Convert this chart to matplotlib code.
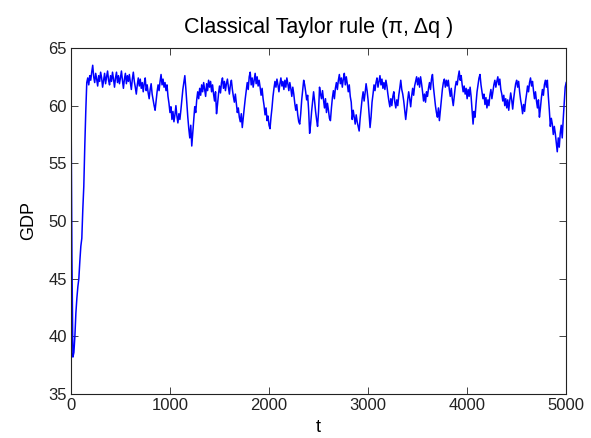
import matplotlib
matplotlib.use("Agg")
import matplotlib.pyplot as plt
import numpy as np

gdp_rows = [
    [62.0, 47.0, 38.2, 38.6, 40.0, 42.0, 43.3, 44.3, 45.0, 46.5],
    [47.8, 48.5, 51.0, 53.0, 56.5, 59.5, 62.0, 62.4, 61.8, 62.6],
    [62.2, 62.9, 63.5, 62.5, 62.0, 62.8, 62.3, 61.7, 62.6, 62.1],
    [62.9, 62.4, 61.6, 62.2, 62.8, 61.9, 62.5, 63.0, 62.2, 61.8],
    [62.6, 62.1, 62.9, 62.3, 61.6, 62.4, 62.9, 62.0, 62.6, 61.9],
    [62.4, 63.0, 62.2, 61.5, 62.3, 62.8, 61.9, 62.6, 62.1, 62.7],
    [62.0, 61.4, 62.3, 62.9, 62.1, 61.6, 61.0, 61.8, 62.4, 61.7],
    [62.3, 61.5, 62.0, 61.2, 61.9, 62.4, 61.3, 61.8, 61.1, 60.6],
    [61.4, 61.9, 61.0, 60.5, 60.0, 59.6, 60.4, 61.2, 61.8, 61.3],
    [62.1, 62.7, 61.8, 62.3, 61.6, 62.0, 61.3, 61.8, 60.8, 60.2],
    [59.4, 59.9, 58.8, 59.5, 58.6, 59.2, 60.0, 59.1, 58.5, 59.3],
    [58.8, 59.6, 60.5, 61.4, 62.0, 62.6, 61.5, 60.2, 59.0, 58.0],
    [57.2, 58.3, 56.5, 57.6, 58.8, 59.9, 59.4, 60.5, 61.2, 60.6],
    [61.5, 60.9, 61.8, 61.2, 62.0, 61.4, 60.8, 61.9, 61.3, 62.2],
    [61.6, 62.1, 61.2, 61.8, 61.0, 60.4, 61.2, 59.3, 60.1, 61.0],
    [61.7, 61.1, 62.0, 62.4, 61.5, 62.1, 61.3, 61.9, 62.3, 61.6],
    [61.0, 61.8, 62.2, 61.4, 60.8, 60.3, 61.0, 60.2, 59.4, 59.8],
    [59.0, 58.6, 59.3, 58.1, 59.0, 59.8, 60.6, 61.3, 62.0, 61.4],
    [62.5, 62.9, 61.8, 62.4, 61.6, 62.2, 62.8, 61.9, 62.5, 61.7],
    [62.2, 61.6, 60.9, 61.5, 60.6, 60.0, 59.2, 59.8, 58.7, 59.1],
    [58.3, 58.0, 59.0, 59.8, 60.8, 61.5, 62.1, 61.6, 62.3, 61.8],
    [61.2, 61.9, 62.4, 61.7, 62.1, 61.4, 62.2, 61.6, 62.4, 61.9],
    [61.3, 62.0, 61.5, 60.8, 61.6, 61.0, 60.2, 59.6, 60.1, 59.2],
    [58.6, 58.4, 59.3, 60.5, 61.4, 62.2, 61.8, 61.2, 60.5, 60.9],
    [59.6, 57.6, 58.4, 59.5, 60.4, 61.2, 60.4, 59.5, 58.8, 58.2],
    [59.5, 61.6, 61.0, 60.6, 61.3, 60.5, 59.8, 60.6, 59.4, 60.2],
    [59.6, 58.9, 58.7, 59.8, 60.7, 61.3, 60.6, 61.5, 62.0, 61.4],
    [62.2, 62.7, 61.9, 62.4, 61.6, 62.3, 62.8, 61.8, 62.5, 61.9],
    [61.2, 61.8, 60.8, 60.3, 58.8, 59.6, 59.0, 58.4, 59.2, 58.6],
    [58.2, 57.8, 58.9, 59.8, 60.6, 61.2, 60.4, 61.1, 61.9, 61.3],
    [60.5, 59.3, 58.1, 59.0, 60.3, 61.0, 61.8, 61.3, 62.0, 62.4],
    [61.6, 62.1, 62.6, 61.8, 62.3, 61.5, 62.0, 61.4, 62.2, 61.7],
    [61.0, 60.4, 59.9, 60.6, 60.0, 60.8, 61.2, 60.3, 59.8, 60.5],
    [60.0, 60.9, 61.5, 62.2, 61.4, 61.0, 60.4, 59.6, 58.8, 59.6],
    [60.5, 61.2, 60.6, 59.9, 60.8, 61.5, 60.9, 61.7, 62.1, 62.5],
    [61.8, 62.4, 61.6, 62.5, 61.9, 61.2, 60.4, 61.0, 60.3, 61.2],
    [60.8, 61.5, 62.0, 61.4, 62.3, 62.7, 61.6, 60.8, 60.0, 59.4],
    [59.0, 59.8, 58.7, 59.6, 60.6, 61.4, 62.0, 62.3, 61.6, 62.2],
    [61.7, 62.2, 61.4, 60.8, 61.5, 60.6, 60.0, 60.8, 61.6, 62.1],
    [61.8, 62.5, 63.0, 62.2, 62.6, 61.8, 61.2, 61.7, 61.0, 61.5],
    [60.6, 61.4, 60.8, 61.6, 60.8, 59.6, 58.4, 59.5, 59.0, 60.2],
    [61.2, 61.8, 62.4, 62.7, 61.8, 61.2, 60.6, 61.0, 60.1, 60.7],
    [59.8, 60.5, 60.0, 60.9, 61.4, 60.6, 61.2, 61.8, 62.2, 61.6],
    [62.1, 62.5, 61.8, 62.3, 61.4, 61.0, 60.4, 60.9, 60.0, 60.6],
    [59.8, 60.5, 59.6, 60.4, 61.1, 60.5, 59.7, 60.6, 61.3, 61.9],
    [62.2, 61.6, 62.1, 61.2, 60.5, 60.0, 59.3, 60.1, 59.5, 60.4],
    [61.0, 61.7, 61.2, 62.0, 62.4, 61.7, 62.1, 61.3, 60.6, 61.2],
    [60.4, 59.8, 60.5, 59.0, 59.8, 60.7, 61.4, 60.9, 61.8, 62.2],
    [61.6, 62.2, 60.8, 59.6, 58.2, 58.9, 58.4, 57.5, 58.2, 57.6],
    [56.8, 56.0, 57.2, 56.4, 57.6, 58.3, 57.2, 58.8, 60.2, 61.6],
    [62.0],
]
gdp = [v for row in gdp_rows for v in row]
t_step = 10
t = np.arange(len(gdp)) * t_step

x_ticks = [0, 1000, 2000, 3000, 4000, 5000]
y_ticks = [35, 40, 45, 50, 55, 60, 65]

plt.rcParams['font.family'] = ['Liberation Sans', 'DejaVu Sans']

fig = plt.figure(figsize=(5.91, 4.38), dpi=100)
ax = fig.add_axes([0.120, 0.1005, 0.838, 0.790])
ax.plot(t, gdp, color='#0000ff', linewidth=1.1)

ax.set_xlim(0, 5000)
ax.set_ylim(35, 65)
ax.set_xticks(x_ticks)
ax.set_yticks(y_ticks)
ax.tick_params(direction='in', top=True, right=True, length=5, width=0.6,
               labelsize=12, pad=3, colors='#222222')
for s in ax.spines.values():
    s.set_linewidth(0.8)
    s.set_color('#222222')

ax.set_xlabel('t', fontsize=13, labelpad=4)
ax.set_ylabel('GDP', fontsize=13, labelpad=8)
ax.set_title('Classical Taylor rule (π, Δq )', fontsize=15.5, pad=11)

fig.savefig('out.png', dpi=100)
